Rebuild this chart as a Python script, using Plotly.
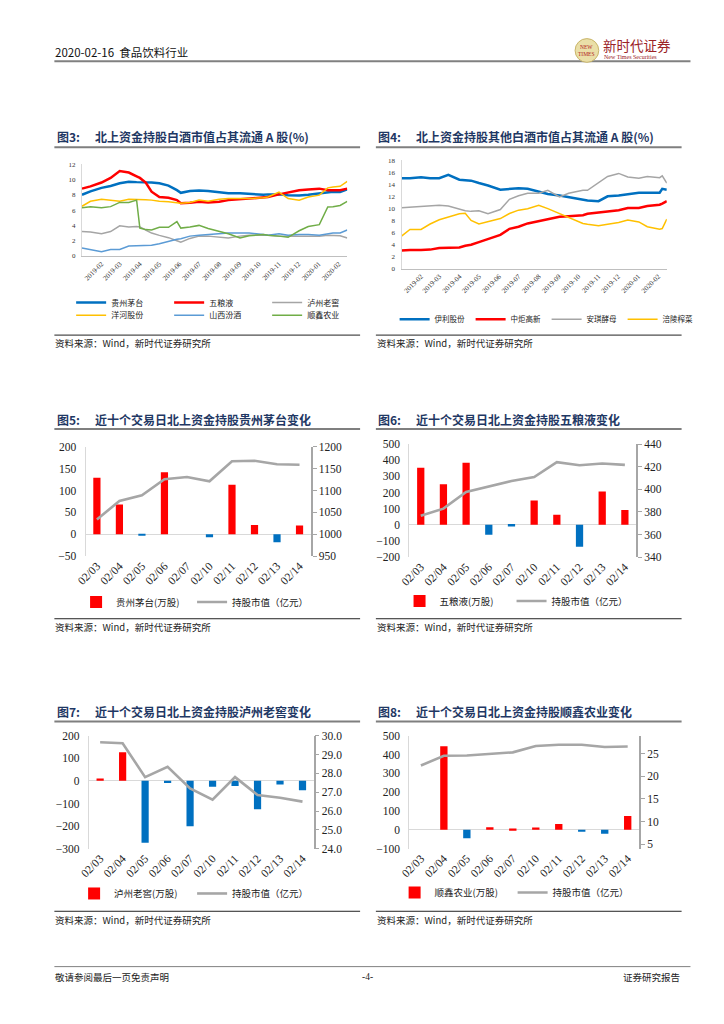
import plotly.graph_objects as go

W, H = 724, 1024
def px(x): return x / W
def py(y): return 1 - y / H

FONT = "Liberation Serif, Noto Sans CJK SC, serif"
CJK = "Noto Sans CJK SC, Liberation Serif, sans-serif"

# ---------------- data: Fig 3 ----------------
dates3 = ["2019-01-02","2019-01-15","2019-02-01","2019-02-15","2019-03-01","2019-03-15","2019-03-27",
          "2019-04-01","2019-04-10","2019-04-19","2019-05-01","2019-05-15","2019-05-28","2019-06-03",
          "2019-06-17","2019-07-01","2019-07-15","2019-08-01","2019-08-15","2019-09-02","2019-09-16",
          "2019-10-08","2019-10-15","2019-11-01","2019-11-15","2019-12-02","2019-12-16","2020-01-02",
          "2020-01-15","2020-01-23","2020-02-03","2020-02-14"]
moutai = [8.0, 8.45, 8.9, 9.15, 9.5, 9.7, 9.65, 9.65, 9.65, 9.6, 9.5, 9.2, 8.6, 8.25, 8.5, 8.55,
          8.5, 8.3, 8.2, 8.2, 8.1, 8.0, 8.05, 8.05, 7.95, 7.9, 8.0, 8.2, 8.3, 8.4, 8.35, 8.7]
wuliangye = [8.8, 9.1, 9.6, 10.2, 11.1, 10.9, 10.4, 10.2, 9.6, 8.4, 7.7, 7.6, 7.3, 6.9, 6.95, 7.1,
             7.0, 7.1, 7.3, 7.4, 7.5, 7.65, 7.7, 8.05, 8.3, 8.6, 8.7, 8.8, 8.6, 8.6, 8.6, 8.8]
luzhou = [3.2, 3.15, 2.9, 3.2, 3.95, 3.8, 3.85, 3.8, 3.4, 3.0, 2.7, 2.4, 2.0, 1.8, 2.3, 2.6,
          2.6, 2.45, 2.35, 2.6, 2.7, 2.7, 2.7, 2.6, 2.6, 2.6, 2.55, 2.6, 2.7, 2.7, 2.65, 2.35]
yanghe = [6.5, 7.15, 7.4, 7.3, 7.15, 7.4, 7.4, 7.4, 7.35, 7.3, 7.15, 7.1, 7.0, 6.9, 7.0, 7.3,
          7.15, 7.4, 7.5, 7.5, 7.5, 7.6, 7.7, 8.35, 7.5, 7.3, 7.7, 7.95, 8.9, 9.0, 9.1, 9.75]
fenjiu = [1.05, 0.85, 0.55, 0.85, 0.85, 1.3, 1.35, 1.35, 1.4, 1.4, 1.6, 1.95, 2.2, 2.25, 2.6, 2.7,
          2.8, 2.9, 3.0, 3.0, 3.0, 2.8, 2.7, 2.9, 2.7, 2.8, 2.8, 2.7, 2.9, 3.0, 3.0, 3.4]
shunxin = [6.3, 6.45, 6.3, 6.45, 7.0, 7.0, 7.3, 3.65, 3.45, 3.4, 3.75, 3.75, 4.5, 3.65, 3.8, 4.0,
           3.6, 3.2, 2.9, 2.35, 2.65, 2.8, 2.7, 2.6, 2.45, 3.3, 3.85, 4.1, 6.4, 6.45, 6.6, 7.15]

# ---------------- data: Fig 4 ----------------
dates4 = ["2019-01-02","2019-01-15","2019-02-01","2019-02-15","2019-03-01","2019-03-15","2019-04-01",
          "2019-04-10","2019-04-19","2019-05-01","2019-05-15","2019-06-03","2019-06-17","2019-07-01",
          "2019-07-15","2019-08-01","2019-08-15","2019-09-02","2019-09-16","2019-10-08","2019-10-15",
          "2019-11-01","2019-11-15","2019-12-02","2019-12-16","2020-01-02","2020-01-15","2020-02-03",
          "2020-02-07","2020-02-14"]
yili = [15.0, 15.0, 15.15, 15.0, 15.0, 15.55, 14.75, 14.7, 14.6, 14.2, 13.8, 13.1, 13.25, 13.35,
        13.25, 12.8, 12.4, 12.15, 11.85, 11.5, 11.3, 11.2, 12.0, 12.15, 12.4, 12.6, 12.6, 12.6, 13.25, 13.1]
zhongju = [3.0, 3.1, 3.1, 3.15, 3.4, 3.5, 3.5, 3.8, 3.95, 4.4, 4.9, 5.6, 6.6, 6.95, 7.5, 7.9,
           8.3, 8.6, 8.7, 8.85, 9.1, 9.3, 9.4, 9.7, 10.05, 10.05, 10.4, 10.6, 10.8, 11.2]
angel = [10.1, 10.2, 10.4, 10.4, 10.5, 10.4, 9.8, 9.6, 9.5, 9.6, 9.1, 9.8, 11.5, 12.1, 12.5,
         12.5, 13.0, 11.9, 12.5, 13.0, 13.0, 14.3, 15.3, 15.8, 15.2, 15.0, 15.3, 15.1, 15.4, 14.2]
fuling = [5.4, 6.5, 6.5, 7.4, 8.1, 8.5, 9.1, 9.2, 8.0, 7.4, 7.8, 8.3, 9.15, 9.7, 9.95, 10.5,
          9.95, 9.15, 8.6, 7.5, 7.35, 7.1, 7.35, 7.65, 8.05, 7.75, 6.95, 6.55, 6.65, 8.2]

# ---------------- data: Figs 5-8 ----------------
days = ["02/03", "02/04", "02/05", "02/06", "02/07", "02/10", "02/11", "02/12", "02/13", "02/14"]
mt_flow = [129, 68, -2, 142, 0, -7, 113, 21, -18, 20]
mt_value = [1034, 1076, 1089, 1126, 1131, 1121, 1167, 1168, 1160, 1159]
wly_flow = [353, 251, 384, -61, -10, 151, 63, -135, 206, 92]
wly_value = [376.7, 382.9, 397.7, 402.7, 407.3, 410.8, 424.0, 421.3, 422.8, 421.6]
lz_flow = [10, 127, -274, -9, -201, -26, -23, -125, -16, -42]
lz_value = [29.65, 29.6, 27.8, 28.35, 27.2, 26.6, 27.8, 26.85, 26.7, 26.5]
sx_flow = [0, 444, -45, 14, 7, 12, 31, -7, -21, 73]
sx_value = [22.4, 24.55, 24.6, 24.9, 25.3, 26.7, 27.0, 27.0, 26.5, 26.6]

RED, BLUE, GRAYL = "#FF0000", "#0070C0", "#A6A6A6"

fig = go.Figure()

def add_line(x, y, name, color, width, xa, ya, legend):
    fig.add_trace(go.Scatter(x=x, y=y, name=name, mode="lines",
                             line=dict(color=color, width=width),
                             xaxis=xa, yaxis=ya, legend=legend))

# Fig 3
add_line(dates3, moutai, "贵州茅台", "#0070C0", 2.5, "x", "y", "legend")
add_line(dates3, wuliangye, "五粮液", "#FF0000", 2.5, "x", "y", "legend")
add_line(dates3, luzhou, "泸州老窖", "#A5A5A5", 1.5, "x", "y", "legend")
add_line(dates3, yanghe, "洋河股份", "#FFC000", 1.5, "x", "y", "legend2")
add_line(dates3, fenjiu, "山西汾酒", "#5B9BD5", 1.5, "x", "y", "legend2")
add_line(dates3, shunxin, "顺鑫农业", "#70AD47", 1.5, "x", "y", "legend2")
# Fig 4
add_line(dates4, yili, "伊利股份", "#0070C0", 2.5, "x2", "y2", "legend3")
add_line(dates4, zhongju, "中炬高新", "#FF0000", 2.5, "x2", "y2", "legend3")
add_line(dates4, angel, "安琪酵母", "#A5A5A5", 1.5, "x2", "y2", "legend3")
add_line(dates4, fuling, "涪陵榨菜", "#FFC000", 1.5, "x2", "y2", "legend3")

def add_combo(flow, value, name, xa, ya, ya2, legend):
    colors = [RED if v >= 0 else BLUE for v in flow]
    fig.add_trace(go.Bar(x=days, y=flow, name=name, marker=dict(color=colors, line=dict(width=0)),
                         width=0.32, xaxis=xa, yaxis=ya, legend=legend))
    fig.add_trace(go.Scatter(x=days, y=value, name="持股市值（亿元）", mode="lines",
                             line=dict(color=GRAYL, width=2.6), xaxis=xa, yaxis=ya2, legend=legend))

add_combo(mt_flow, mt_value, "贵州茅台(万股)", "x3", "y3", "y4", "legend4")
add_combo(wly_flow, wly_value, "五粮液(万股)", "x4", "y5", "y6", "legend5")
add_combo(lz_flow, lz_value, "泸州老窖(万股)", "x5", "y7", "y8", "legend6")
add_combo(sx_flow, sx_value, "顺鑫农业(万股)", "x6", "y9", "y10", "legend7")

tickf = dict(family=FONT, size=11.5, color="#222")
smallf = dict(family=FONT, size=7, color="#333")

layout = dict(
    width=W, height=H, autosize=False,
    margin=dict(l=0, r=0, t=0, b=0),
    paper_bgcolor="white", plot_bgcolor="white",
    font=dict(family=FONT, color="#222"),
    # Fig 3
    xaxis=dict(domain=[px(73), px(342)], anchor="y", type="date",
               range=["2019-01-02", "2020-02-14"], dtick="M1", tick0="2019-01-01",
               tickformat="%Y-%m", tickangle=-45, tickfont=smallf, showgrid=False,
               showline=True, linecolor="#BFBFBF", linewidth=1, ticks="", zeroline=False),
    yaxis=dict(domain=[py(253), py(160)], anchor="x", range=[0, 12], dtick=2,
               tickfont=smallf, showgrid=False, showline=True, linecolor="#D9D9D9",
               zeroline=False, ticks="", ticklabelstandoff=4),
    # Fig 4
    xaxis2=dict(domain=[px(397), px(666)], anchor="y2", type="date",
                range=["2019-01-02", "2020-02-14"], dtick="M1", tick0="2019-01-01",
                tickformat="%Y-%m", tickangle=-45, tickfont=smallf, showgrid=False,
                showline=True, linecolor="#BFBFBF", linewidth=1, ticks="", zeroline=False),
    yaxis2=dict(domain=[py(265.7), py(156)], anchor="x2", range=[0, 18], dtick=2,
                tickfont=smallf, showgrid=False, showline=True, linecolor="#D9D9D9",
                zeroline=False, ticks="", ticklabelstandoff=4),
)

def combo_axes(n_x, n_y, n_y2, xd, yd, r1, d1, r2, d2, fmt2=None):
    layout["xaxis%d" % n_x] = dict(domain=[px(xd[0]), px(xd[1])], anchor="y%d" % n_y,
                                   type="category", tickangle=-45, tickfont=tickf,
                                   showgrid=False, showline=False, ticks="")
    layout["yaxis%d" % n_y] = dict(domain=[py(yd[1]), py(yd[0])], anchor="x%d" % n_x,
                                   range=r1, dtick=d1, tickfont=tickf, showgrid=False,
                                   showline=True, linecolor="#D9D9D9", linewidth=1,
                                   zeroline=True, zerolinecolor="#D9D9D9", zerolinewidth=1,
                                   ticks="", ticklabelstandoff=6)
    y2 = dict(overlaying="y%d" % n_y, side="right", anchor="x%d" % n_x, range=r2, dtick=d2,
              tickfont=tickf, showgrid=False, showline=True, linecolor="#A6A6A6",
              linewidth=1.5, zeroline=False, ticks="outside", ticklen=4,
              tickcolor="#A6A6A6")
    if fmt2:
        y2["tickformat"] = fmt2
    layout["yaxis%d" % n_y2] = y2

combo_axes(3, 3, 4, (76.7, 305), (446, 556.7), [-50, 200], 50, [950, 1200], 50)
combo_axes(4, 5, 6, (405, 635), (443.3, 557.7), [-200, 500], 100, [340, 440], 20)
combo_axes(5, 7, 8, (80, 308), (738.3, 852.7), [-300, 200], 100, [24, 30], 1, ".1f")
combo_axes(6, 9, 10, (405, 638), (738.3, 852.7), [-100, 500], 100, [4, 29], 5)

def leg(x, y, ew, size):
    return dict(x=px(x), y=py(y), xanchor="left", yanchor="middle", orientation="h",
                font=dict(family=CJK, size=size, color="#222"), bgcolor="rgba(0,0,0,0)",
                itemwidth=30, entrywidth=ew, entrywidthmode="pixels", tracegroupgap=0,
                itemclick=False, itemdoubleclick=False)

layout["legend"] = leg(62, 300, 53, 8)
layout["legend2"] = leg(62, 313, 53, 8)
layout["legend3"] = leg(390, 317, 31, 7.5)
layout["legend4"] = leg(67, 603, 71, 9.5)
layout["legend5"] = leg(395, 602, 67, 9.5)
layout["legend6"] = leg(65, 898, 73, 9.5)
layout["legend7"] = leg(390, 897, 73, 9.5)

fig.update_layout(**layout)

# ---------------- page decoration ----------------
shapes = []
def hline(x0, x1, y, color, w):
    shapes.append(dict(type="line", xref="paper", yref="paper", x0=px(x0), x1=px(x1),
                       y0=py(y), y1=py(y), line=dict(color=color, width=w)))

hline(45, 690, 56, "#808080", 2)          # header rule
hline(45, 690, 972, "#808080", 1)         # footer rule
for (xa, xb) in [(45, 355), (371, 681)]:
    for y in (143, 428, 724):
        hline(xa, xb, y, "#7F7F7F", 2)     # title rules
    for y in (333, 620, 916):
        hline(xa, xb, y, "#222222", 1)     # source rules
shapes.append(dict(type="circle", xref="paper", yref="paper",
                   x0=px(573), x1=px(597), y0=py(57), y1=py(33),
                   fillcolor="#EADFA8", line=dict(color="#C9B56A", width=1)))

ann = []
def text(x, y, s, size=10, color="#222", xanchor="left", bold=False, family=CJK):
    if bold:
        s = "<b>" + s + "</b>"
    ann.append(dict(xref="paper", yref="paper", x=px(x), y=py(y), text=s, showarrow=False,
                    xanchor=xanchor, yanchor="middle", borderpad=0,
                    font=dict(family=family, size=size, color=color)))

text(45, 47, "2020-02-16  食品饮料行业", 11.5, "#111")
text(585, 41, "NEW", 5.5, "#B22222", "center", family=FONT)
text(585, 49, "TIMES", 5.5, "#B22222", "center", family=FONT)
text(600, 39, "新时代证券", 13.5, "#9B2226")
text(601, 52, "New Times Securities", 6, "#9B2226", family=FONT)

TITLE = "#1F3864"
titles = [
    (47, 85, 132, "图3:", "北上资金持股白酒市值占其流通 A 股(%)"),
    (372, 411, 132, "图4:", "北上资金持股其他白酒市值占其流通 A 股(%)"),
    (47, 85, 418, "图5:", "近十个交易日北上资金持股贵州茅台变化"),
    (372, 411, 418, "图6:", "近十个交易日北上资金持股五粮液变化"),
    (47, 85, 714, "图7:", "近十个交易日北上资金持股泸州老窖变化"),
    (372, 411, 714, "图8:", "近十个交易日北上资金持股顺鑫农业变化"),
]
for (xa, xb, y, a, b) in titles:
    text(xa, y, a, 12, TITLE, bold=True)
    text(xb, y, b, 12, TITLE, bold=True)

for x in (45, 371):
    for y in (341, 628, 925):
        text(x, y, "资料来源：Wind，新时代证券研究所", 9.5, "#222")

text(45, 983, "敬请参阅最后一页免责声明", 9.5, "#222")
text(362, 983, "-4-", 9.5, "#222", "center", family=FONT)
text(680, 983, "证券研究报告", 9.5, "#222", "right")

fig.update_layout(shapes=shapes, annotations=ann)
fig.write_html("out.html", config={"displayModeBar": False},
               post_script="document.body.style.margin='0';document.body.style.overflow='hidden';")
